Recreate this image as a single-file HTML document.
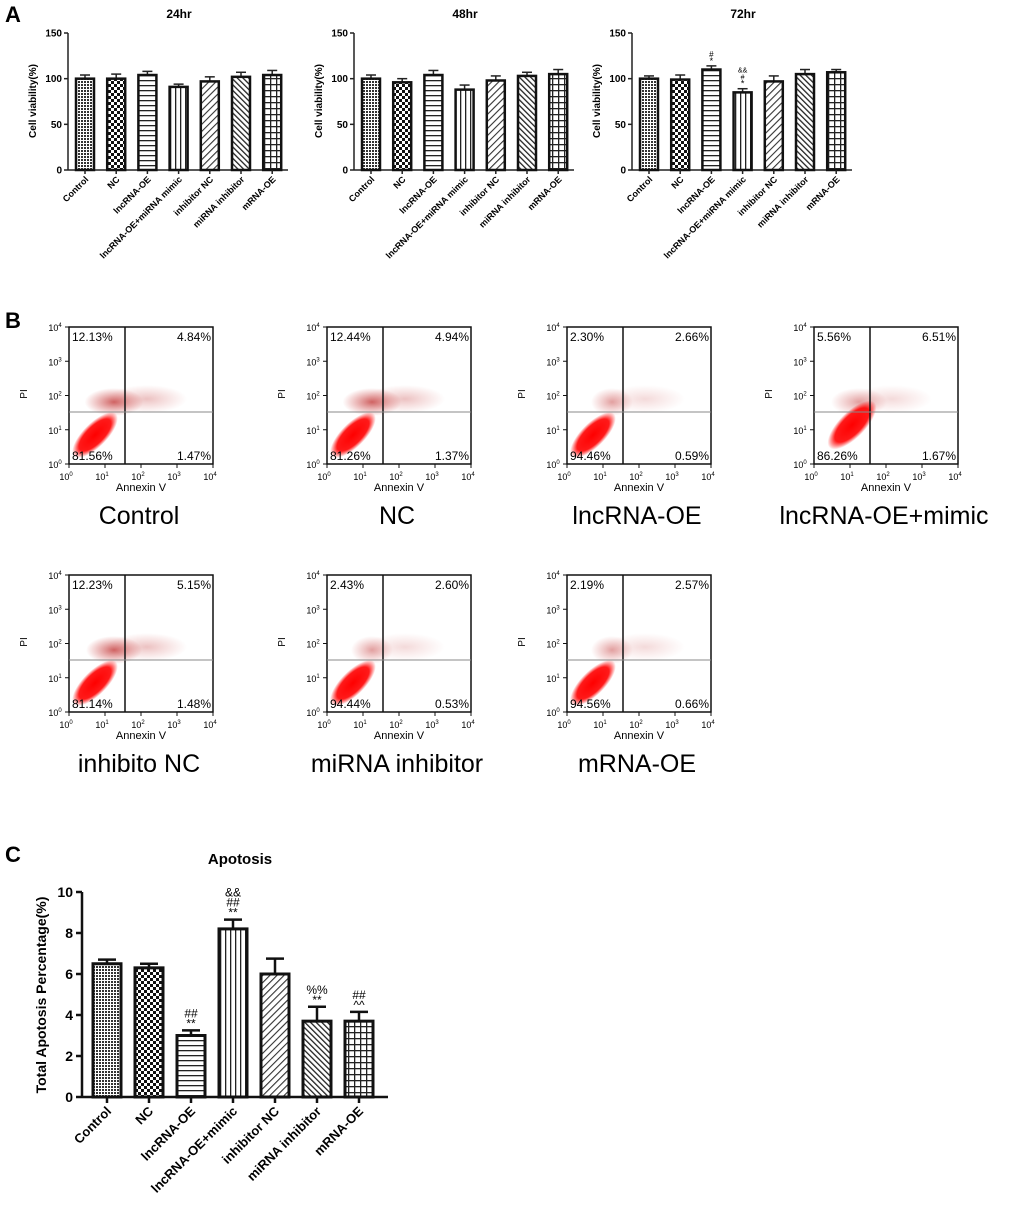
<!DOCTYPE html>
<html><head><meta charset="utf-8"><style>
html,body{margin:0;padding:0;background:#fff;}
svg{display:block;font-family:"Liberation Sans",Arial,sans-serif;}
</style></head><body>
<svg id="fig" width="1020" height="1221" viewBox="0 0 1020 1221" xmlns="http://www.w3.org/2000/svg">
<defs>
<pattern id="p0" width="3" height="3" patternUnits="userSpaceOnUse"><rect width="3" height="3" fill="#fff"/><rect width="2" height="2" fill="#333"/></pattern>
<pattern id="p1" width="6" height="6" patternUnits="userSpaceOnUse"><rect width="6" height="6" fill="#fff"/><rect width="3" height="3" fill="#111"/><rect x="3" y="3" width="3" height="3" fill="#111"/></pattern>
<pattern id="p2" width="5" height="5" patternUnits="userSpaceOnUse"><rect width="5" height="5" fill="#fff"/><rect y="0" width="5" height="1.3" fill="#222"/></pattern>
<pattern id="p3" width="5" height="5" patternUnits="userSpaceOnUse"><rect width="5" height="5" fill="#fff"/><rect x="0" width="1.3" height="5" fill="#222"/></pattern>
<pattern id="p4" width="5" height="5" patternUnits="userSpaceOnUse" patternTransform="rotate(45)"><rect width="5" height="5" fill="#fff"/><rect width="1.1" height="5" fill="#333"/></pattern>
<pattern id="p5" width="4" height="4" patternUnits="userSpaceOnUse" patternTransform="rotate(-45)"><rect width="4" height="4" fill="#fff"/><rect width="1.3" height="4" fill="#222"/></pattern>
<pattern id="p6" width="6" height="6" patternUnits="userSpaceOnUse"><rect width="6" height="6" fill="#fff"/><rect width="6" height="1.3" fill="#222"/><rect width="1.3" height="6" fill="#222"/></pattern>
<radialGradient id="rg"><stop offset="0" stop-color="#f00" stop-opacity="1"/><stop offset="0.7" stop-color="#f00" stop-opacity="0.9"/><stop offset="1" stop-color="#f00" stop-opacity="0"/></radialGradient>
<radialGradient id="rg2"><stop offset="0" stop-color="#b22" stop-opacity="0.7"/><stop offset="1" stop-color="#c33" stop-opacity="0"/></radialGradient>
</defs>
<text x="5" y="22" font-size="22" font-weight="bold">A</text>
<text x="5" y="328" font-size="22" font-weight="bold">B</text>
<text x="5" y="862" font-size="22" font-weight="bold">C</text>
<g id="gA"></g><g id="gB"></g><g id="gC"></g>
</svg>
<script>
const NS="http://www.w3.org/2000/svg";
const groupsA=["Control","NC","lncRNA-OE","lncRNA-OE+miRNA mimic","inhibitor NC","miRNA inhibitor","mRNA-OE"];
const timesA=["24hr","48hr","72hr"];
const val24=[100,100,104,91,97,102,104];
const err24=[4,5,4,3,5,5,5];
const val48=[100,96,104,88,98,103,105];
const err48=[4,4,5,5,5,4,5];
const val72=[100,99,110,85,97,105,107];
const err72=[3,5,4,4,6,5,3];
const ticksA=[0,50,100,150];
const groupsC=["Control","NC","lncRNA-OE","lncRNA-OE+mimic","inhibitor NC","miRNA inhibitor","mRNA-OE"];
const valC=[6.5,6.3,3.0,8.2,6.0,3.7,3.7];
const errC=[0.2,0.2,0.25,0.45,0.75,0.7,0.45];
const ticksC=[0,2,4,6,8,10];
const annC=[[],[],["**","##"],["**","##","&&"],[],["**","%%"],["^^","##"]];
const flowNames=["Control","NC","lncRNA-OE","lncRNA-OE+mimic","inhibito NC","miRNA inhibitor","mRNA-OE"];
const flowUL=["12.13%","12.44%","2.30%","5.56%","12.23%","2.43%","2.19%"];
const flowUR=["4.84%","4.94%","2.66%","6.51%","5.15%","2.60%","2.57%"];
const flowLL=["81.56%","81.26%","94.46%","86.26%","81.14%","94.44%","94.56%"];
const flowLR=["1.47%","1.37%","0.59%","1.67%","1.48%","0.53%","0.66%"];

function el(tag,attrs,parent,txt){const e=document.createElementNS(NS,tag);for(const k in attrs)e.setAttribute(k,attrs[k]);if(txt!==undefined)e.textContent=txt;parent.appendChild(e);return e;}

// Panel A
const gA=document.getElementById('gA');
const seriesA=[[val24,err24],[val48,err48],[val72,err72]];
const axXs=[68,354,632];
seriesA.forEach((s,ci)=>{
  const ax=axXs[ci], y0=170, yTop=33;
  const ys=v=>y0-v/150*(y0-yTop);
  const xs=i=>ax+17+i*31.2;
  const g=el('g',{},gA);
  
  
  const t=el('text',{x:ax+111,y:18,'font-size':12,'font-weight':'bold','text-anchor':'middle'},g,timesA[ci]);
  
  
  el('line',{x1:ax,y1:yTop,x2:ax,y2:y0,stroke:'#222','stroke-width':1.5},g);
  el('line',{x1:ax,y1:y0,x2:ax+220,y2:y0,stroke:'#222','stroke-width':1.5},g);
  ticksA.forEach(tv=>{
    el('line',{x1:ax-4,y1:ys(tv),x2:ax,y2:ys(tv),stroke:'#222','stroke-width':1.5},g);
    const tl=el('text',{x:ax-6,y:ys(tv)+3.5,'font-size':10,'font-weight':'bold','text-anchor':'end'},g,tv);
    
    
  });
  const yt=el('text',{transform:`translate(${ax-32},101) rotate(-90)`,'font-size':10,'font-weight':'bold','text-anchor':'middle'},g,'Cell viability(%)');
  
  
  s[0].forEach((v,i)=>{
    const cx=xs(i);
    const e=s[1][i];
    el('line',{x1:cx,y1:ys(v),x2:cx,y2:ys(v+e),stroke:'#222','stroke-width':1.5},g);
    el('line',{x1:cx-5,y1:ys(v+e),x2:cx+5,y2:ys(v+e),stroke:'#222','stroke-width':1.5},g);
    const b=el('rect',{x:cx-9,y:ys(v),width:18,height:y0-ys(v),fill:`url(#p${i})`,stroke:'#111','stroke-width':2.5},g);
    
    
    el('line',{x1:cx,y1:y0,x2:cx,y2:y0+4,stroke:'#222','stroke-width':1.5},g);
    const xl=el('text',{transform:`translate(${cx+4},${y0+10}) rotate(-45)`,'font-size':9,'font-weight':'bold','text-anchor':'end'},g,groupsA[i]);
    
    
  });
  if(ci===2){
    el('text',{x:xs(2),y:ys(val72[2]+err72[2])-2,'font-size':9,'text-anchor':'middle'},g,'*');
    el('text',{x:xs(2),y:ys(val72[2]+err72[2])-9,'font-size':8,'text-anchor':'middle'},g,'#');
    el('text',{x:xs(3),y:ys(val72[3]+err72[3])-2,'font-size':9,'text-anchor':'middle'},g,'*');
    el('text',{x:xs(3),y:ys(val72[3]+err72[3])-9,'font-size':7,'text-anchor':'middle'},g,'#');
    el('text',{x:xs(3),y:ys(val72[3]+err72[3])-16,'font-size':7,'text-anchor':'middle'},g,'&&');
  }
});

// Panel B
const gB=document.getElementById('gB');
const boxPos=[[69,327],[327,327],[567,327],[814,327],[69,575],[327,575],[567,575]];
const upperCloud=[[0.55,0.42,1],[0.55,0.42,1],[0.25,0.25,0.6],[0.5,0.35,0.6],[0.5,0.4,1],[0.25,0.25,0.6],[0.25,0.25,0.6]];
flowNames.forEach((nm,i)=>{
  const [bx,by]=boxPos[i];const W=144,H=137;
  const g=el('g',{},gB);
  
  
  el('rect',{x:bx,y:by,width:W,height:H,fill:'#fff'},g);
  const uc=upperCloud[i];
  el('ellipse',{cx:bx+45,cy:by+75,rx:28*uc[0]+14,ry:14,fill:'url(#rg2)',opacity:uc[2]},g);
  el('ellipse',{cx:bx+78,cy:by+72,rx:40,ry:14,fill:'url(#rg2)',opacity:uc[2]*0.4},g);
  const ccx=bx+(i===3?38:26), ccy=by+(i===3?98:108);
  el('ellipse',{cx:ccx,cy:ccy,rx:i===3?32:30,ry:i===3?13:12,fill:'url(#rg)',transform:`rotate(-45 ${ccx} ${ccy})`},g);
  el('rect',{x:bx,y:by,width:W,height:H,fill:'none',stroke:'#111','stroke-width':1.5},g);
  el('line',{x1:bx+56,y1:by,x2:bx+56,y2:by+H,stroke:'#111','stroke-width':1.5},g);
  el('line',{x1:bx,y1:by+85,x2:bx+W,y2:by+85,stroke:'#888','stroke-width':1},g);
  el('text',{x:bx+3,y:by+14,'font-size':12},g,flowUL[i]);
  el('text',{x:bx+W-2,y:by+14,'font-size':12,'text-anchor':'end'},g,flowUR[i]);
  el('text',{x:bx+3,y:by+H-4,'font-size':12},g,flowLL[i]);
  el('text',{x:bx+W-2,y:by+H-4,'font-size':12,'text-anchor':'end'},g,flowLR[i]);
  for(let k=0;k<5;k++){
    const tx=bx+k*W/4, ty=by+H-k*H/4;
    el('line',{x1:tx,y1:by+H,x2:tx,y2:by+H+4,stroke:'#111'},g);
    el('line',{x1:bx-4,y1:ty,x2:bx,y2:ty,stroke:'#111'},g);
    const xt=el('text',{x:tx-3,y:by+H+16,'font-size':9,'text-anchor':'middle'},g,'10');
    el('tspan',{dy:-4,'font-size':6},xt,String(k));
    const yt=el('text',{x:bx-14,y:ty+4,'font-size':9,'text-anchor':'middle'},g,'10');
    el('tspan',{dy:-4,'font-size':6},yt,String(k));
  }
  el('text',{x:bx+W/2,y:by+H+27,'font-size':11,'text-anchor':'middle'},g,'Annexin V');
  el('text',{transform:`translate(${bx-42},${by+67}) rotate(-90)`,'font-size':10,'text-anchor':'middle'},g,'PI');
  const lab=el('text',{x:bx+W/2-2,y:by+H+60,'font-size':25,'text-anchor':'middle'},g,nm);
  
  
});

// Panel C
const gC=document.getElementById('gC');
const cy0=1097, cTop=892, cAx=82;
const ysC=v=>cy0-v/10*(cy0-cTop);
const xsC=i=>cAx+25+i*42;
el('line',{x1:cAx,y1:cTop,x2:cAx,y2:cy0,stroke:'#111','stroke-width':2.5},gC);
el('line',{x1:cAx,y1:cy0,x2:cAx+306,y2:cy0,stroke:'#111','stroke-width':2.5},gC);
const ct=el('text',{x:240,y:864,'font-size':15,'font-weight':'bold','text-anchor':'middle'},gC,'Apotosis');


const cyt=el('text',{transform:`translate(46,995) rotate(-90)`,'font-size':14,'font-weight':'bold','text-anchor':'middle'},gC,'Total Apotosis Percentage(%)');


ticksC.forEach(tv=>{
  el('line',{x1:cAx-6,y1:ysC(tv),x2:cAx,y2:ysC(tv),stroke:'#111','stroke-width':2.5},gC);
  const tl=el('text',{x:cAx-9,y:ysC(tv)+5,'font-size':14,'font-weight':'bold','text-anchor':'end'},gC,tv);
  
  
});
valC.forEach((v,i)=>{
  const cx=xsC(i), e=errC[i];
  el('line',{x1:cx,y1:ysC(v),x2:cx,y2:ysC(v+e),stroke:'#111','stroke-width':2.5},gC);
  el('line',{x1:cx-9,y1:ysC(v+e),x2:cx+9,y2:ysC(v+e),stroke:'#111','stroke-width':2.5},gC);
  const b=el('rect',{x:cx-14,y:ysC(v),width:28,height:cy0-ysC(v),fill:`url(#p${i})`,stroke:'#111','stroke-width':3},gC);
  
  
  el('line',{x1:cx,y1:cy0,x2:cx,y2:cy0+6,stroke:'#111','stroke-width':2.5},gC);
  annC[i].forEach((a,k)=>{
    el('text',{x:cx,y:ysC(v+e)-3-k*10,'font-size':12,'text-anchor':'middle'},gC,a);
  });
  const xl=el('text',{transform:`translate(${cx+5},${cy0+15}) rotate(-45)`,'font-size':13,'font-weight':'bold','text-anchor':'end'},gC,groupsC[i]);
  
  
});
</script>
</body></html>
